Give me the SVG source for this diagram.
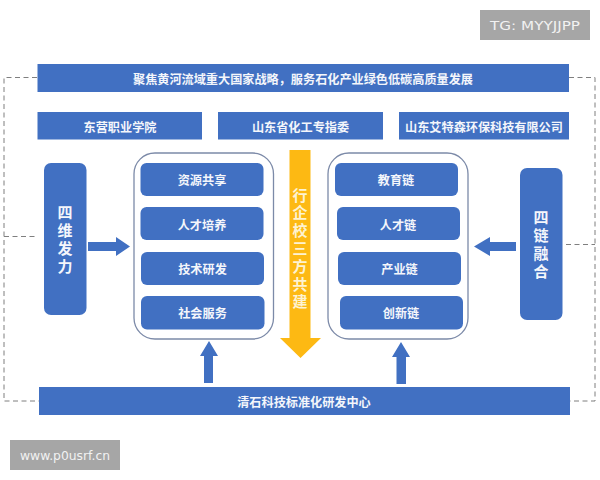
<svg xmlns="http://www.w3.org/2000/svg" width="600" height="480" viewBox="0 0 600 480">
<style>
.bar{fill:#4170c2}
.item{fill:#4170c2}
.cont{fill:none;stroke:#7c8aa8;stroke-width:1.3}
.dash{fill:none;stroke:#7f7f7f;stroke-width:1;stroke-dasharray:5 3.5}
.arr{fill:#4170c2}
text{font-family:"Noto Sans CJK SC","Noto Sans",sans-serif;font-weight:700;fill:#f4f6fb;text-anchor:middle;dominant-baseline:central}
.t{font-size:12.15px}
text.v{font-family:"Liberation Sans","Noto Sans CJK SC",sans-serif;font-size:15px}
text.y{fill:#fdf3d2}
.wm{fill:#a6a6a6}
text.wt{font-family:"DejaVu Sans",sans-serif;font-weight:400;font-size:12.5px;fill:#f2f2f2}
</style>
<rect width="600" height="480" fill="#fff"/>
<g id="connectors">
<path class="dash" d="M37 77.500H4V401H39"/>
<path class="dash" d="M4 236.500H38"/>
<path class="dash" d="M569 77.500H595V401H570"/>
<path class="dash" d="M566 244.500H595"/>
<path class="arr" d="M88 242H116V237L130 246.500L116 256V251H88Z"/>
<path class="arr" d="M516 242H490V237L474 246.500L490 256V251H516Z"/>
<path class="arr" d="M204 383V356H200L209 341L218 356H213V383Z"/>
<path class="arr" d="M396.500 384V357H392L401 342L410 357H406V384Z"/>
</g>
<g id="top"><rect class="bar" x="37.500" y="64" width="531.500" height="28"/><text class="t" x="303" y="78.500">聚焦黄河流域重大国家战略，服务石化产业绿色低碳高质量发展</text></g>
<g id="org1"><rect class="bar" x="37.500" y="112" width="164.500" height="27.500"/><text class="t" x="120" y="126">东营职业学院</text></g>
<g id="org2"><rect class="bar" x="218" y="112" width="165" height="27.500"/><text class="t" x="300.500" y="126">山东省化工专指委</text></g>
<g id="org3"><rect class="bar" x="399" y="112" width="170" height="27.500"/><text class="t" x="484" y="126">山东艾特森环保科技有限公司</text></g>
<g id="left-block"><rect class="bar" x="44" y="163" width="42.500" height="152" rx="7"/><text class="v" x="65" y="212.500">四</text><text class="v" x="65" y="230.500">维</text><text class="v" x="65" y="248">发</text><text class="v" x="65" y="266">力</text></g>
<g id="right-block"><rect class="bar" x="520" y="168" width="42.500" height="152" rx="7"/><text class="v" x="541" y="217">四</text><text class="v" x="541" y="235">链</text><text class="v" x="541" y="253">融</text><text class="v" x="541" y="271">合</text></g>
<g id="left-container"><rect class="cont" x="134" y="153" width="139.500" height="186" rx="21"/></g>
<g id="right-container"><rect class="cont" x="328" y="153" width="140" height="186" rx="21"/></g>
<g id="l1"><rect class="item" x="140.500" y="163" width="123" height="33" rx="6"/><text class="t" x="202" y="179.500">资源共享</text></g>
<g id="l2"><rect class="item" x="140.500" y="207" width="123" height="33" rx="6"/><text class="t" x="202" y="224">人才培养</text></g>
<g id="l3"><rect class="item" x="141" y="252" width="123" height="33" rx="6"/><text class="t" x="202.500" y="268.500">技术研发</text></g>
<g id="l4"><rect class="item" x="141" y="296" width="123.500" height="33.500" rx="6"/><text class="t" x="202.500" y="312.500">社会服务</text></g>
<g id="r1"><rect class="item" x="335" y="163" width="123" height="33" rx="6"/><text class="t" x="396" y="179.500">教育链</text></g>
<g id="r2"><rect class="item" x="337" y="207" width="123" height="33" rx="6"/><text class="t" x="398" y="224">人才链</text></g>
<g id="r3"><rect class="item" x="338" y="252" width="123" height="33" rx="6"/><text class="t" x="399.500" y="268.500">产业链</text></g>
<g id="r4"><rect class="item" x="340" y="296" width="123" height="33.500" rx="6"/><text class="t" x="401" y="312.500">创新链</text></g>
<g id="center-arrow"><path fill="#fdb913" d="M289.500 150H310.500V338H321L300.500 358L280 338H289.500Z"/>
<text class="v y" x="300" y="195">行</text><text class="v y" x="300" y="212.800">企</text><text class="v y" x="300" y="230.600">校</text><text class="v y" x="300" y="248.400">三</text><text class="v y" x="300" y="266.200">方</text><text class="v y" x="300" y="284">共</text><text class="v y" x="300" y="301.800">建</text></g>
<g id="bottom"><rect class="bar" x="39" y="387" width="531" height="28"/><text class="t" x="304" y="401">清石科技标准化研发中心</text></g>
<g id="wm1"><rect class="wm" x="480" y="10" width="110" height="30"/><text class="wt" x="535" y="25" textLength="90" lengthAdjust="spacingAndGlyphs">TG: MYYJJPP</text></g>
<g id="wm2"><rect class="wm" x="10" y="440" width="110" height="30"/><text class="wt" x="65" y="455" textLength="90" lengthAdjust="spacingAndGlyphs">www.p0usrf.cn</text></g>
</svg>
